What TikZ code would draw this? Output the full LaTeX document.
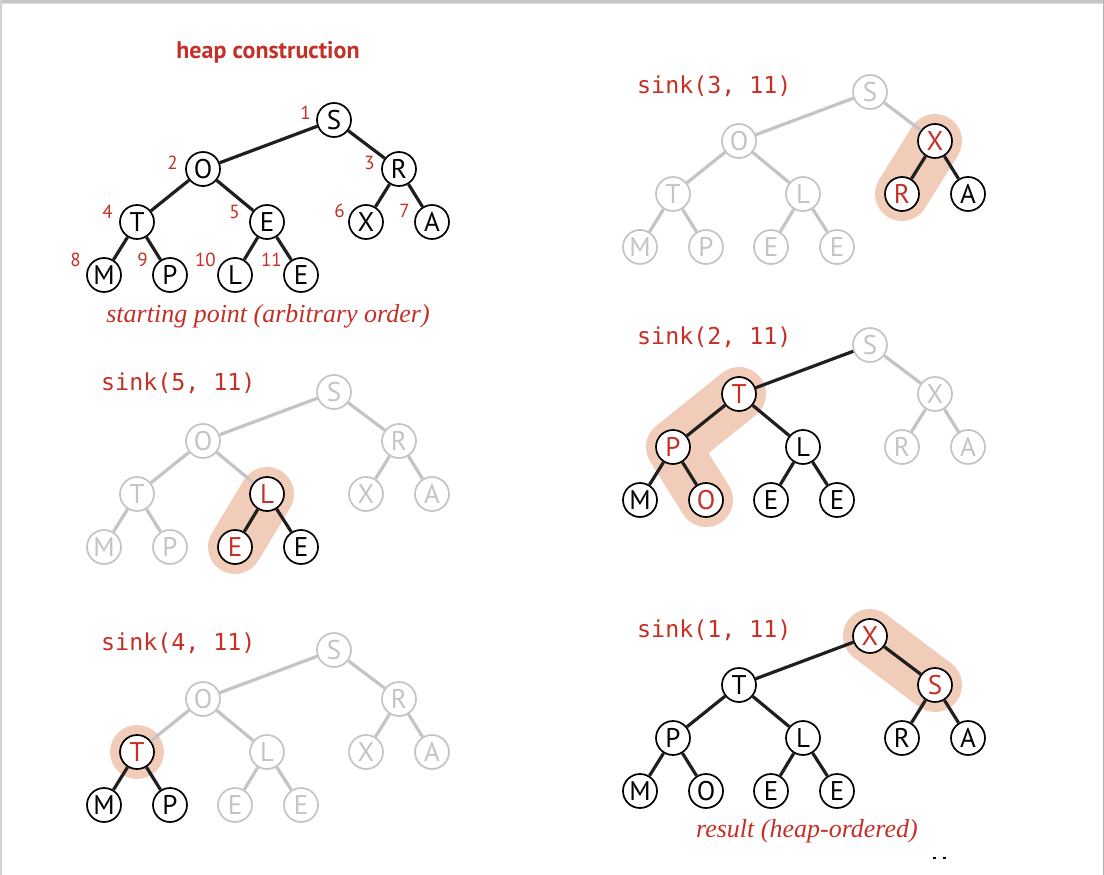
\documentclass[tikz,border=0pt]{standalone}
\usepackage{fontspec}
\setmainfont{PT Sans}
\newfontfamily\monof{DejaVu Sans Mono}
\newfontfamily\capf{Liberation Serif}
\definecolor{hred}{RGB}{196,48,38}
\definecolor{hlite}{RGB}{241,204,185}
\definecolor{hgray}{RGB}{196,196,198}
\tikzset{
  bk/.style={circle, draw=black, line width=1.7pt, fill=white, minimum size=34pt, inner sep=0pt,
    font=\fontsize{27}{27}\selectfont, text=black},
  gy/.style={bk, draw=hgray, text=hgray},
  rd/.style={bk, text=hred},
  b/.style={line width=3.2pt, draw=black!88},
  g/.style={line width=3.2pt, draw=hgray},
  hl/.style={line width=54pt, draw=hlite, line cap=round, line join=round},
  idx/.style={text=hred, font=\fontsize{19}{19}\selectfont, anchor=east, inner sep=0pt},
  sinklab/.style={text=hred, font=\monof\fontsize{23.3}{23.3}\selectfont, anchor=west, inner sep=0pt},
  capt/.style={text=hred, font=\capf\itshape\fontsize{26}{26}\selectfont, inner sep=0pt},
  ttl/.style={text=hred, font=\bfseries\fontsize{24}{24}\selectfont, inner sep=0pt},
}
% #1 prefix, #2 root x, #3 root y
\newcommand\treecoords[3]{%
  \coordinate (#1c1) at (#2,#3);
  \coordinate (#1c2) at (#2-131,#3+49);
  \coordinate (#1c3) at (#2+65,#3+49);
  \coordinate (#1c4) at (#2-197,#3+102);
  \coordinate (#1c5) at (#2-67,#3+102);
  \coordinate (#1c6) at (#2+32,#3+102);
  \coordinate (#1c7) at (#2+98,#3+102);
  \coordinate (#1c8) at (#2-230,#3+155);
  \coordinate (#1c9) at (#2-164,#3+155);
  \coordinate (#1c10) at (#2-99,#3+155);
  \coordinate (#1c11) at (#2-33,#3+155);
}
% #1 prefix, #2 list index/letter/style, #3 list child/edge style
\newcommand\treenodes[3]{%
  \foreach \i/\l/\s in {#2} {\node[\s] (#1n\i) at (#1c\i) {\l};}
  \foreach \c/\s in {#3} {%
    \pgfmathtruncatemacro\pa{\c/2}%
    \draw[\s] (#1n\pa) -- (#1n\c);}
}
\begin{document}
\begin{tikzpicture}[x=1pt,y=-1pt]
\useasboundingbox (0,0) rectangle (1104,875);
\fill[white] (0,0) rectangle (1104,875);
% page edge shading
\fill[gray!45] (0,0) rectangle (1104,3);
\fill[gray!25] (0,3) rectangle (1104,4.5);
\fill[gray!35] (0,0) rectangle (2,875);
\draw[gray!60, line width=0.8pt] (1103.4,0) -- (1103.4,875);

% ---------- tree A: starting point ----------
\node[ttl] (title) at (268,52) {heap construction};
\treecoords{a}{334}{120}
\treenodes{a}{1/S/bk,2/O/bk,3/R/bk,4/T/bk,5/E/bk,6/X/bk,7/A/bk,8/M/bk,9/P/bk,10/L/bk,11/E/bk}
  {2/b,3/b,4/b,5/b,6/b,7/b,8/b,9/b,10/b,11/b}
\foreach \i/\dx/\dy in {1/-23/-7,2/-25/-6,3/-24/-6,4/-24/-10,5/-27/-10,6/-21/-11,7/-22/-11,8/-23/-15,9/-22/-15,10/-19/-15,11/-19/-15}
  {\node[idx] (al\i) at ([shift={(\dx,\dy)}]an\i.center) {\i};}
\node[capt] (capa) at (268,316) {starting point (arbitrary order)};

% ---------- tree B: sink(3, 11) ----------
\node[sinklab] (lb) at (637,86) {sink(3, 11)};
\treecoords{b}{870}{92}
\draw[hl] (bc3) -- (bc6);
\treenodes{b}{1/S/gy,2/O/gy,3/X/rd,4/T/gy,5/L/gy,6/R/rd,7/A/bk,8/M/gy,9/P/gy,10/E/gy,11/E/gy}
  {2/g,3/g,4/g,5/g,6/b,7/b,8/g,9/g,10/g,11/g}

% ---------- tree C: sink(5, 11) ----------
\node[sinklab] (lc) at (101,383) {sink(5, 11)};
\treecoords{c}{334}{392}
\draw[hl] (cc5) -- (cc10);
\treenodes{c}{1/S/gy,2/O/gy,3/R/gy,4/T/gy,5/L/rd,6/X/gy,7/A/gy,8/M/gy,9/P/gy,10/E/rd,11/E/bk}
  {2/g,3/g,4/g,5/g,6/g,7/g,8/g,9/g,10/b,11/b}

% ---------- tree D: sink(2, 11) ----------
\node[sinklab] (ld) at (637,337) {sink(2, 11)};
\treecoords{d}{870}{345}
\draw[hl] (dc2) -- (dc4) -- (dc9);
\treenodes{d}{1/S/gy,2/T/rd,3/X/gy,4/P/rd,5/L/bk,6/R/gy,7/A/gy,8/M/bk,9/O/rd,10/E/bk,11/E/bk}
  {2/b,3/g,4/b,5/b,6/g,7/g,8/b,9/b,10/b,11/b}

% ---------- tree E: sink(4, 11) ----------
\node[sinklab] (le) at (101,643) {sink(4, 11)};
\treecoords{e}{334}{650}
\fill[hlite] (ec4) circle (27);
\treenodes{e}{1/S/gy,2/O/gy,3/R/gy,4/T/rd,5/L/gy,6/X/gy,7/A/gy,8/M/bk,9/P/bk,10/E/gy,11/E/gy}
  {2/g,3/g,4/g,5/g,6/g,7/g,8/b,9/b,10/g,11/g}

% ---------- tree F: sink(1, 11) ----------
\node[sinklab] (lf) at (637,630) {sink(1, 11)};
\treecoords{f}{870}{636}
\draw[hl] (fc1) -- (fc3);
\treenodes{f}{1/X/rd,2/T/bk,3/S/rd,4/P/bk,5/L/bk,6/R/bk,7/A/bk,8/M/bk,9/O/bk,10/E/bk,11/E/bk}
  {2/b,3/b,4/b,5/b,6/b,7/b,8/b,9/b,10/b,11/b}
\node[capt] (capf) at (807,831) {result (heap-ordered)};

% small marks at the page foot
\coordinate (m1) at (933,858); \coordinate (m2) at (936,858);
\coordinate (m3) at (943,858); \coordinate (m4) at (946,858);
\draw[line width=1.2pt] (m1) -- (m2) (m3) -- (m4);
\end{tikzpicture}
\end{document}
